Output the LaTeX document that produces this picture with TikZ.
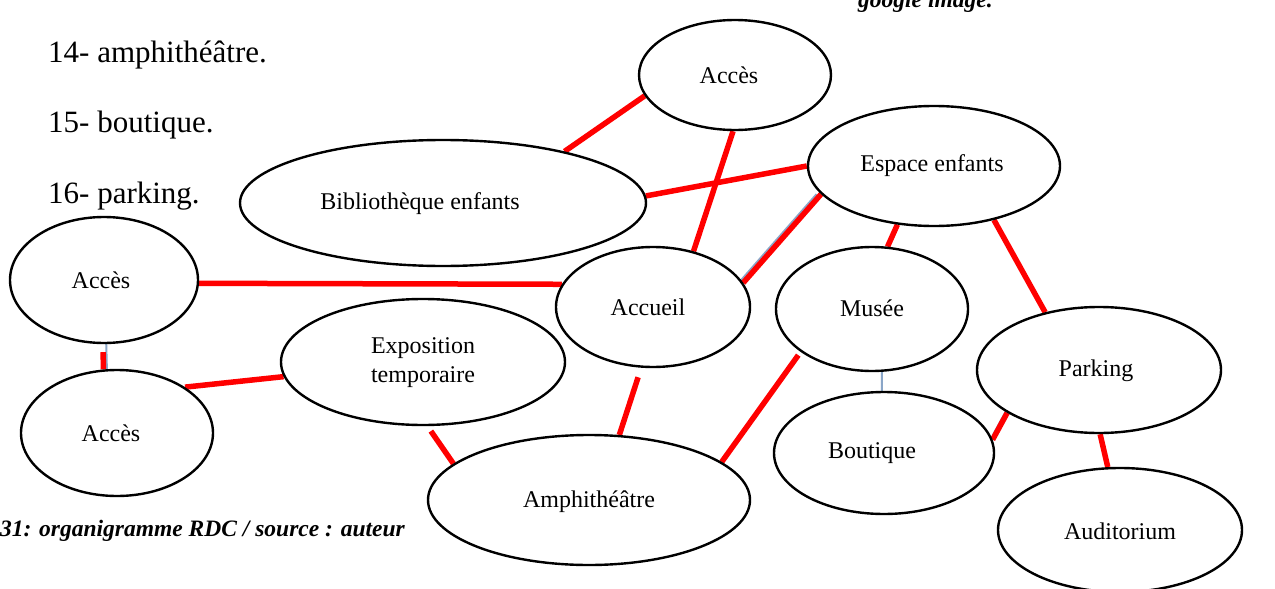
\documentclass[tikz,border=0pt]{standalone}
\usepackage{fontspec}
\setmainfont{Liberation Serif}
\usetikzlibrary{shapes.geometric}
\pgfdeclarelayer{background}
\pgfsetlayers{background,main}
\definecolor{linkblue}{HTML}{8AA6C8}
\tikzset{
  ell/.style={draw=black, line width=2.4pt, ellipse, inner sep=0pt, fill=white},
  lbl/.style={font=\fontsize{24}{29}\selectfont, inner sep=0pt, align=center},
  redlink/.style={draw=red, line width=5.5pt},
  bluelink/.style={draw=linkblue, line width=2pt},
  listtxt/.style={font=\fontsize{31}{36}\selectfont, inner sep=0pt, anchor=base west},
  captxt/.style={font=\bfseries\itshape\fontsize{23.5}{28}\selectfont, inner sep=0pt}
}
\begin{document}
\begin{tikzpicture}[x=1pt,y=-1pt]
\useasboundingbox (0,0) rectangle (1275,589);
\clip (0,0) rectangle (1275,589);

% ellipses
\node[ell, minimum width=192, minimum height=110] (accT) at (735,75) {};
\node[ell, minimum width=406, minimum height=126] (bib) at (443,203) {};
\node[ell, minimum width=252, minimum height=120] (esp) at (934,166) {};
\node[ell, minimum width=188, minimum height=126] (accL) at (104,280) {};
\node[ell, minimum width=194, minimum height=120] (accu) at (653,307) {};
\node[ell, minimum width=192, minimum height=124] (mus) at (872,309) {};
\node[ell, minimum width=284, minimum height=126] (expo) at (423,362) {};
\node[ell, minimum width=192, minimum height=126] (accB) at (117,433) {};
\node[ell, minimum width=244, minimum height=126] (park) at (1099,370) {};
\node[ell, minimum width=220, minimum height=122] (bout) at (884,453) {};
\node[ell, minimum width=322, minimum height=130] (amph) at (589,500) {};
\node[ell, minimum width=244, minimum height=124] (audi) at (1120,530) {};

% labels
\node[lbl] (taccT) at (729,75) {Accès};
\node[lbl] (tbib) at (420,204) {Bibliothèque enfants};
\node[lbl] (tesp) at (932,166) {Espace enfants};
\node[lbl] (taccL) at (101,280) {Accès};
\node[lbl] (taccu) at (648,307) {Accueil};
\node[lbl] (tmus) at (872,308) {Musée};
\node[lbl] (texpo) at (423,363) {Exposition\\temporaire};
\node[lbl] (taccB) at (111,433) {Accès};
\node[lbl] (tpark) at (1096,371) {Parking};
\node[lbl] (tbout) at (872,453) {Boutique};
\node[lbl] (tamph) at (589,502) {Amphithéâtre};
\node[lbl] (taudi) at (1120,531) {Auditorium};

% texts
\node[listtxt] (l14) at (48,62) {14- amphithéâtre.};
\node[listtxt] (l15) at (48,132) {15- boutique.};
\node[listtxt] (l16) at (48,203) {16- parking.};
\node[captxt, anchor=base east] (cap) at (405,536) {31: organigramme RDC / source : auteur};
\node[captxt, anchor=base west] (goo) at (858,7) {google image.};

% connectors
\begin{pgfonlayer}{background}
\fill[white] (0,0) rectangle (1275,589);
\draw[bluelink] ([xshift=-4.5pt]esp.194) -- ([xshift=-4.5pt]accu.15);
\draw[bluelink] (accL.272.7) -- (accB.99);
\draw[bluelink] (mus.279) -- (bout.92);
\draw[bluelink] ([yshift=4pt]bout.7) -- ([yshift=4pt]park.205.6);

\draw[redlink] (bib.23.2) -- (accT.193.3);
\draw[redlink] (accT.268.3) -- (accu.54.9);
\draw[redlink] (bib.2) -- (esp.180);
\draw[redlink] (accL.358.8) -- (accu.166.3);
\draw[redlink] (esp.194.1) -- (accu.15.4);
\draw[redlink] (esp.238.8) -- (mus.76);
\draw[redlink] (esp.318.1) -- (park.133.2);
\draw[redlink, shorten <=8pt] (accL.269) -- (accB.102.5);
\draw[redlink] (accB.34.3) -- (expo.186.1);
\draw[redlink, shorten <=6pt] (expo.274) -- (amph.165);
\draw[redlink, shorten <=10pt] (accu.259.6) -- (amph.65);
\draw[redlink, shorten <=4pt] (mus.211.3) -- (amph.16.7);
\draw[redlink] (bout.7.1) -- (park.205.6);
\draw[redlink] (park.271.6) -- (audi.101.3);
\end{pgfonlayer}
\end{tikzpicture}
\end{document}
